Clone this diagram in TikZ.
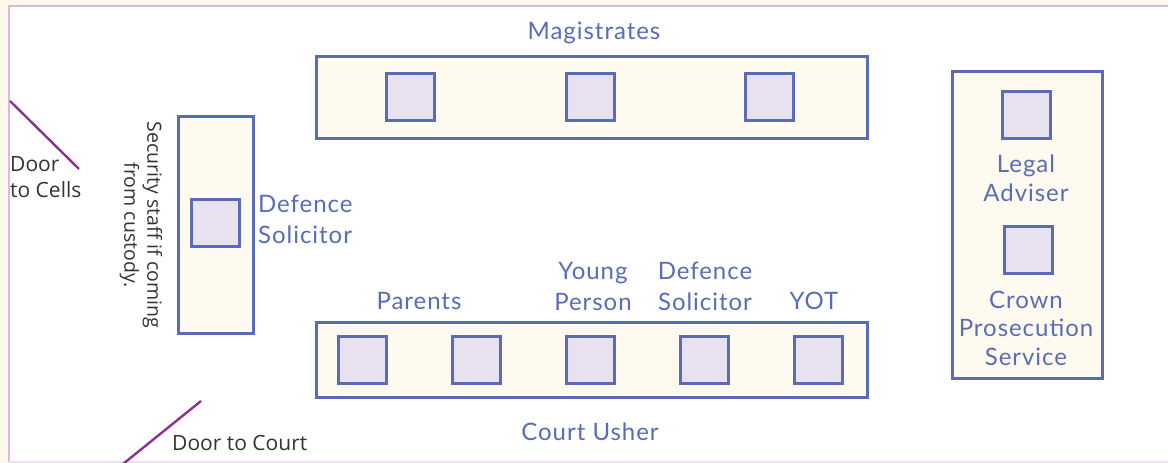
\documentclass[tikz,border=0pt]{standalone}
\usepackage{fontspec}
\setmainfont{Open Sans}
\newfontfamily\bluefont[LetterSpace=4]{Lato}
\definecolor{cream}{HTML}{FFF8EC}
\definecolor{benchfill}{HTML}{FFFAF0}
\definecolor{seatfill}{HTML}{E8E1F0}
\definecolor{edge}{HTML}{5A6CB7}
\definecolor{frameline}{HTML}{D9BCDD}
\definecolor{framebottom}{HTML}{EEDFF0}
\definecolor{door}{HTML}{8E2F92}
\definecolor{graytext}{HTML}{333333}
\tikzset{
  bench/.style={draw=edge, fill=benchfill, line width=3pt},
  seat/.style={draw=edge, fill=seatfill, line width=3pt, minimum width=48pt, minimum height=47pt, inner sep=0pt, outer sep=0pt},
  lbl/.style={text=edge, font=\bluefont\fontsize{24}{31}\selectfont, align=center, inner sep=0pt},
  darklbl/.style={text=graytext, font=\fontsize{21}{26}\selectfont, inner sep=0pt},
  doorline/.style={draw=door, line width=2.4pt},
}
\begin{document}
\begin{tikzpicture}[x=1pt,y=-1pt]
\useasboundingbox (0,0) rectangle (1168,463);
\fill[cream] (0,0) rectangle (1168,463);
\fill[white] (9,6) rectangle (1168,462);
\draw[frameline, line width=2pt] (1168,6) -- (9,6) -- (9,462);
\draw[framebottom, line width=2pt] (9,462) -- (1168,462);

% Magistrates bench
\draw[bench] (316,56) rectangle (867,138);
\node[seat] (m1) at (410.5,97) {};
\node[seat] (m2) at (590.5,97) {};
\node[seat] (m3) at (769.5,97) {};
\node[lbl] (mag) at (594,33) {Magistrates};

% Defence bench (left)
\draw[bench] (178,116) rectangle (253,333);
\node[seat] (d1) at (215.5,223) {};
\node[lbl, anchor=west, align=left] (dsl) at (258,219) {Defence\\Solicitor};
\node[darklbl, rotate=-90, align=center, font=\fontsize{19.5}{23}\selectfont] (sec) at (141,225) {Security staff if coming\\from custody.};

% Lower bench
\draw[bench] (316,322) rectangle (867,397);
\node[seat] (b1) at (362.5,359.5) {};
\node[seat] (b2) at (476.5,359.5) {};
\node[seat] (b3) at (590.5,359.5) {};
\node[seat] (b4) at (704.5,359.5) {};
\node[seat] (b5) at (818.5,359.5) {};
\node[lbl] (par) at (419,301) {Parents};
\node[lbl] (yp) at (593,286) {Young\\Person};
\node[lbl] (ds2) at (705,286) {Defence\\Solicitor};
\node[lbl] (yot) at (814,301) {YOT};
\node[lbl] (usher) at (590,432) {Court Usher};

% Right bench
\draw[bench] (952,71) rectangle (1102,378);
\node[seat] (la) at (1026.5,114.5) {};
\node[seat] (cp) at (1028.5,249.5) {};
\node[lbl, font=\bluefont\fontsize{24}{29}\selectfont] (lal) at (1026,178) {Legal\\Adviser};
\node[lbl, font=\bluefont\fontsize{24}{28.5}\selectfont] (cpl) at (1026,328) {Crown\\Prosecution\\Service};

% Doors
\coordinate (dc1) at (10,101);
\coordinate (dc2) at (79,169);
\draw[doorline] (dc1) -- (dc2);
\node[darklbl, anchor=west, align=left] (dct) at (10,177) {Door\\to Cells};
\coordinate (dk1) at (123,464);
\coordinate (dk2) at (201,401);
\draw[doorline] (dk1) -- (dk2);
\node[darklbl, anchor=west] (dkt) at (172,443) {Door to Court};
\end{tikzpicture}
\end{document}
